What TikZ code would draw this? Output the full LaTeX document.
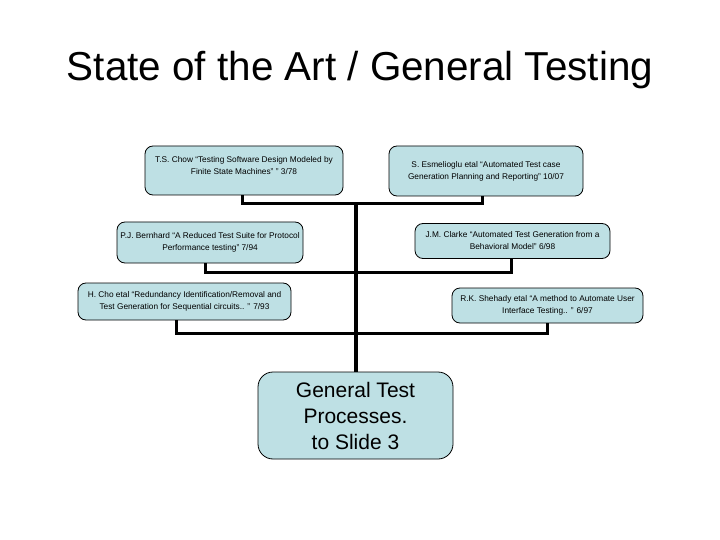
\documentclass[tikz,border=0pt]{standalone}
\usepackage{fontspec}
\setmainfont{Liberation Sans}
\definecolor{boxfill}{RGB}{190,224,228}
\tikzset{
  refbox/.style={draw=black, line width=0.8pt, fill=boxfill, rounded corners=8pt, inner sep=0pt},
  smalltxt/.style={font=\fontsize{8.3}{12}\selectfont, align=center, inner sep=0pt},
  bigtxt/.style={font=\fontsize{21}{26}\selectfont, align=center, inner sep=0pt},
  conn/.style={line width=3pt},
  trunk/.style={line width=4.5pt}
}
\begin{document}
\begin{tikzpicture}[x=1pt,y=-1pt]
\useasboundingbox (0,0) rectangle (720,540);
% title
\node[font=\fontsize{40.4}{44}\selectfont, inner sep=0pt] (title) at (360,70) {State of the Art / General Testing};

% boxes
\node[refbox, minimum width=198pt, minimum height=49pt] (b1) at (244,170.5) {};
\node[smalltxt] (t1) at (244,166) {T.S. Chow “Testing Software Design Modeled by\\Finite State Machines” ” 3/78};

\node[refbox, minimum width=194pt, minimum height=50pt, smalltxt] (b2) at (486,171) {S. Esmelioglu etal “Automated Test case\\Generation Planning and Reporting” 10/07};

\node[refbox, minimum width=186pt, minimum height=41pt, smalltxt] (b3) at (210,242.5) {P.J. Bernhard “A Reduced Test Suite for Protocol\\Performance testing” 7/94};

\node[refbox, minimum width=195pt, minimum height=35pt, smalltxt] (b4) at (512.5,241) {J.M. Clarke “Automated Test Generation from a\\Behavioral Model” 6/98};

\node[refbox, minimum width=213pt, minimum height=37pt, smalltxt] (b5) at (184.5,301.5) {H. Cho etal “Redundancy Identification/Removal and\\Test Generation for Sequential circuits.. ” 7/93};

\node[refbox, minimum width=191pt, minimum height=35pt, smalltxt] (b6) at (547.5,305.5) {R.K. Shehady etal “A method to Automate User\\Interface Testing.. ” 6/97};

\node[refbox, rounded corners=15pt, minimum width=195pt, minimum height=87pt, bigtxt] (b7) at (355.5,415.5) {General Test\\Processes.\\to Slide 3};

% junction coordinates
\coordinate (j1l) at (242,204);
\coordinate (j1r) at (482,204);
\coordinate (j2l) at (205,272);
\coordinate (j2r) at (511,272);
\coordinate (j3l) at (176,333);
\coordinate (j3r) at (547,333);
\coordinate (top) at (356,204);

% connectors
\draw[conn] (b1.south -| j1l) -- (j1l) -- (j1r) -- (b2.south -| j1r);
\draw[conn] (b3.south -| j2l) -- (j2l) -- (j2r) -- (b4.south -| j2r);
\draw[conn] (b5.south -| j3l) -- (j3l) -- (j3r) -- (b6.south -| j3r);
\draw[trunk] (top) -- (b7.north -| top);
\end{tikzpicture}
\end{document}
